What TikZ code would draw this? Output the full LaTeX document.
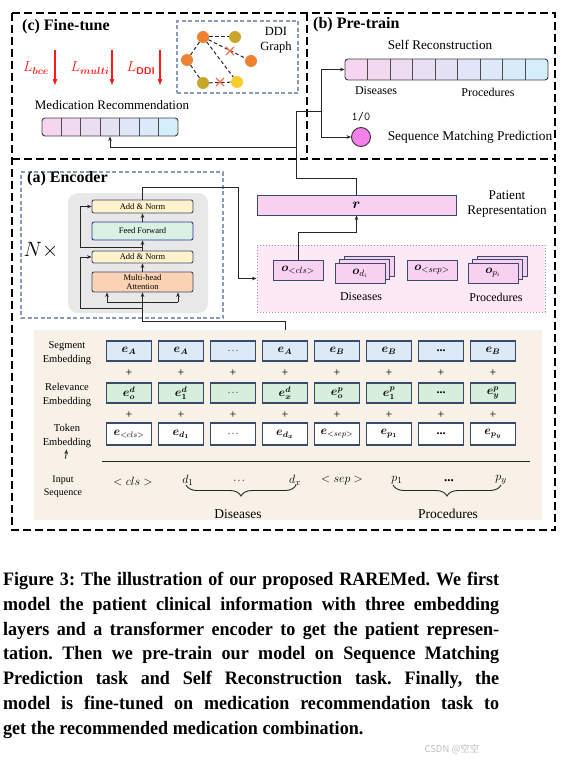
\documentclass[tikz,border=0pt]{standalone}
\usepackage{fontspec}
\setmainfont{Liberation Serif}
\newfontfamily\capfont{Liberation Serif}[FakeStretch=0.95]
\newfontfamily\cjkfont{Noto Sans CJK SC}
\usepackage{amsmath}
\usepackage{bm}
\usetikzlibrary{arrows.meta,decorations.pathreplacing,shapes.misc,calc}
\definecolor{bordc}{HTML}{3B4A6B}
\definecolor{segc}{HTML}{DCE9F7}
\definecolor{relc}{HTML}{D6EFDC}
\definecolor{beige}{HTML}{F8F1E7}
\definecolor{dashb}{HTML}{8A9BB5}
\definecolor{opink}{HTML}{F9D1F0}
\definecolor{panelpink}{HTML}{FDE8F6}
\definecolor{gpink}{HTML}{F6D6EF}
\definecolor{gblue}{HTML}{D4EEFB}
\definecolor{anc}{HTML}{FFF2CC}
\definecolor{ffc}{HTML}{D9F0E3}
\definecolor{mhac}{HTML}{FBD3B4}
\definecolor{grayb}{HTML}{E8E8E8}
\definecolor{ddior}{HTML}{EE8232}
\definecolor{ddiol}{HTML}{C8A62A}
\definecolor{ddiye}{HTML}{F6CD2B}
\definecolor{crossc}{HTML}{F36D4F}
\definecolor{smpc}{HTML}{F580EA}
\definecolor{lossred}{HTML}{FF1A1A}
\frenchspacing
\newcommand{\fsz}[2]{\fontsize{#1}{#2}\selectfont}
\newcommand{\gradbar}[5]{%
  \begin{scope}
    \clip[rounded corners=3pt] (#1,#2) rectangle (#3,#4);
    \pgfmathsetmacro{\cw}{(#3-#1)/#5}
    \foreach \i in {1,...,#5}{
      \pgfmathsetmacro{\pc}{100-(\i-1)*100/(#5-1)}
      \fill[gpink!\pc!gblue] ({#1+(\i-1)*\cw},#2) rectangle ({#1+\i*\cw},#4);
    }
  \end{scope}
  \pgfmathsetmacro{\cw}{(#3-#1)/#5}
  \foreach \i in {2,...,#5}{
    \draw[black!70, line width=0.8pt] ({#1+(\i-1)*\cw},#2) -- ({#1+(\i-1)*\cw},#4);
  }
}
\begin{document}
\begin{tikzpicture}[x=1pt, y=-1pt,
  conn/.style={draw=black!85, line width=0.9pt},
  arr/.style={conn, -{Stealth[length=4.5pt,width=3.6pt]}},
  outerdash/.style={draw=black, line width=1.1pt, dash pattern=on 8pt off 4pt},
  innerdash/.style={draw=dashb, line width=1.1pt, dash pattern=on 4pt off 2.5pt},
  emb/.style={draw=bordc, line width=1.1pt, minimum width=45pt, minimum height=20pt, inner sep=0pt, font=\fsz{12}{14}},
  seg/.style={emb, fill=segc},
  rel/.style={emb, fill=relc},
  tok/.style={emb, fill=white, minimum height=22pt},
  enc/.style={draw=bordc, line width=0.9pt, rounded corners=2pt, minimum width=101pt, inner sep=0pt, font=\fsz{8.5}{9.5}, align=center},
  obox/.style={draw=bordc, line width=1pt, fill=opink, minimum width=50pt, minimum height=20pt, inner sep=0pt, font=\fsz{13}{14}},
  txt/.style={inner sep=0pt, font=\fsz{12}{14}, align=center},
  lbl/.style={inner sep=0pt, font=\fsz{10.5}{14}, align=center},
  seqt/.style={inner sep=0pt, font=\fsz{13}{14}},
  ttl/.style={inner sep=0pt, anchor=west, font=\bfseries\fsz{16}{18}},
  loss/.style={inner sep=0pt, text=lossred, font=\fsz{14}{16}},
  lossarr/.style={draw=lossred, line width=1.1pt, -{Triangle[length=6pt,width=4.5pt]}},
  ddin/.style={circle, minimum size=12pt, inner sep=0pt},
  ddie/.style={draw=black!85, line width=1pt, dash pattern=on 3.5pt off 2.5pt},
  xmark/.style={cross out, draw=crossc, minimum size=7pt, inner sep=0pt, line width=1.1pt},
  capl/.style={anchor=base west, inner sep=0pt, font=\capfont\bfseries\fsz{19}{22}},
  plus/.style={inner sep=0pt, font=\fsz{12}{14}}
]
\useasboundingbox (0,0) rectangle (572,760);
\fill[white] (0,0) rectangle (572,760);

% ---------- frames ----------
\draw[outerdash] (12,13) rectangle (555,530);
\draw[outerdash] (12,159) -- (555,159);
\draw[outerdash] (307,13) -- (307,159);

% ---------- (c) Fine-tune ----------
\node[ttl] (tc) at (22,27) {(c) Fine-tune};
\node[loss] (l1) at (36,68) {$L_{\bm{bce}}$};
\node[loss] (l2) at (90,68) {$L_{\bm{multi}}$};
\node[loss] (l3) at (141,68) {$L_{\text{\bfseries\sffamily DDI}}$};
\coordinate (a1s) at (55,50); \coordinate (a1e) at (55,85);
\coordinate (a2s) at (112,50); \coordinate (a2e) at (112,85);
\coordinate (a3s) at (160,50); \coordinate (a3e) at (160,85);
\draw[lossarr] (a1s) -- (a1e);
\draw[lossarr] (a2s) -- (a2e);
\draw[lossarr] (a3s) -- (a3e);

\node[innerdash, minimum width=121pt, minimum height=72pt, inner sep=0pt] (ddibox) at (237.5,57) {};
\node[txt, font=\fsz{12.5}{15}] (ddit) at (276,40.5) {DDI\\Graph};
\node[ddin, fill=ddior] (g1) at (203,37) {};
\node[ddin, fill=ddiol] (g2) at (235,37) {};
\node[ddin, fill=ddior] (g3) at (187,60) {};
\node[ddin, fill=ddior] (g4) at (251,61) {};
\node[ddin, fill=ddiol] (g5) at (203,83) {};
\node[ddin, fill=ddiye] (g6) at (237,82) {};
\draw[ddie] (g1) -- (g2);
\draw[ddie] (g1) -- (g3);
\draw[ddie] (g3) -- (g5);
\draw[ddie] (g5) -- (g6);
\draw[ddie] (g1) -- (g4);
\draw[ddie] (g1) -- (g6);
\node[xmark] (x1) at (220,82) {};
\node[xmark] (x2) at (230,51) {};

\node[txt, font=\fsz{13}{15}] (medt) at (112,105) {Medication Recommendation};
\gradbar{42}{118}{178}{136}{7}
\node[draw=black!75, line width=0.9pt, rounded corners=3pt, minimum width=136pt, minimum height=18pt, inner sep=0pt] (med) at (110,127) {};

% ---------- (b) Pre-train ----------
\node[ttl] (tb) at (313,24.5) {(b) Pre-train};
\node[txt, font=\fsz{13.2}{15}] (srt) at (440,45) {Self Reconstruction};
\gradbar{345}{59}{548}{80}{9}
\node[draw=black!75, line width=0.9pt, rounded corners=3pt, minimum width=203pt, minimum height=21pt, inner sep=0pt] (srbar) at (446.5,69.5) {};
\node[txt] (srd) at (376,91) {Diseases};
\node[txt] (srp) at (488,92) {Procedures};
\node[inner sep=0pt, font=\ttfamily\fsz{12}{14}] (onezero) at (361,117) {1/0};
\node[circle, draw=black!80, line width=0.9pt, fill=smpc, minimum size=19pt, inner sep=0pt] (smp) at (361,137) {};
\node[txt, font=\fsz{13.4}{15}] (smpt) at (470,137) {Sequence Matching Prediction};

% ---------- (a) Encoder ----------
\node[innerdash, minimum width=202pt, minimum height=146pt, inner sep=0pt] (encbox) at (122,245) {};
\node[ttl] (ta) at (27,179) {(a) Encoder};
\node[fill=grayb, rounded corners=10pt, minimum width=140pt, minimum height=120pt, inner sep=0pt] (encbg) at (138,253) {};
\node[inner sep=0pt, font=\fsz{21}{22}] (nx) at (41,250) {$N\times$};
\node[enc, fill=anc, minimum height=13pt] (an1) at (142.5,206.5) {Add \& Norm};
\node[enc, fill=ffc, draw=bordc!70!blue, minimum height=18pt] (ff) at (142.5,231) {Feed Forward};
\node[enc, fill=anc, minimum height=12pt] (an2) at (142.5,257) {Add \& Norm};
\node[enc, fill=mhac, minimum height=20pt] (mha) at (142.5,282) {Multi-head\\Attention};
\draw[arr] (mha.north) -- (an2.south);
\draw[arr] (an2.north) -- (ff.south);
\draw[arr] (ff.north) -- (an1.south);

% patient representation panel
\node[draw=dashb, line width=1pt, dotted, fill=panelpink, minimum width=288pt, minimum height=67pt, inner sep=0pt] (opanel) at (401,278.5) {};
\node[obox] (ocls) at (298,270) {$\bm{o}_{\mathord{<}cls\mathord{>}}$};
\node[obox] (odi3) at (369,266) {};
\node[obox] (odi2) at (364.5,269.5) {};
\node[obox] (odi) at (360,273) {$\bm{o}_{d_i}$};
\node[obox] (osep) at (432,270) {$\bm{o}_{\mathord{<}sep\mathord{>}}$};
\node[obox] (opi3) at (502,266) {};
\node[obox] (opi2) at (497.5,269.5) {};
\node[obox] (opi) at (493,273) {$\bm{o}_{p_i}$};
\node[txt] (od) at (361,297) {Diseases};
\node[txt] (op) at (496,297) {Procedures};

\node[obox, minimum width=199pt, minimum height=20pt, font=\fsz{14}{16}] (r) at (356.5,205) {$\bm{r}$};
\node[txt, font=\fsz{13.2}{15}] (prt) at (507,204.5) {Patient\\Representation};

% ---------- embeddings ----------
\node[fill=beige, minimum width=508pt, minimum height=190pt, inner sep=0pt] (panel) at (288,425) {};
\node[seg] (s1) at (129,351) {$\bm{e}_{\bm{A}}$};
\node[seg] (s2) at (181,351) {$\bm{e}_{\bm{A}}$};
\node[seg] (s3) at (233,351) {\textcolor{black!60}{\dots}};
\node[seg] (s4) at (285,351) {$\bm{e}_{\bm{A}}$};
\node[seg] (s5) at (337,351) {$\bm{e}_{\bm{B}}$};
\node[seg] (s6) at (389,351) {$\bm{e}_{\bm{B}}$};
\node[seg] (s7) at (441,351) {\textbf{...}};
\node[seg] (s8) at (493,351) {$\bm{e}_{\bm{B}}$};

\node[rel] (r1) at (129,393) {$\bm{e}^{\bm{d}}_{\bm{o}}$};
\node[rel] (r2) at (181,393) {$\bm{e}^{\bm{d}}_{\bm{1}}$};
\node[rel] (r3) at (233,393) {\textcolor{black!60}{\dots}};
\node[rel] (r4) at (285,393) {$\bm{e}^{\bm{d}}_{\bm{x}}$};
\node[rel] (r5) at (337,393) {$\bm{e}^{\bm{p}}_{\bm{o}}$};
\node[rel] (r6) at (389,393) {$\bm{e}^{\bm{p}}_{\bm{1}}$};
\node[rel] (r7) at (441,393) {\textbf{...}};
\node[rel] (r8) at (493,393) {$\bm{e}^{\bm{p}}_{\bm{y}}$};

\node[tok] (t1) at (129,434) {$\bm{e}_{\mathord{<}cls\mathord{>}}$};
\node[tok] (t2) at (181,434) {$\bm{e}_{\bm{d_1}}$};
\node[tok] (t3) at (233,434) {\textcolor{black!60}{\dots}};
\node[tok] (t4) at (285,434) {$\bm{e}_{\bm{d_x}}$};
\node[tok] (t5) at (337,434) {$\bm{e}_{\mathord{<}sep\mathord{>}}$};
\node[tok] (t6) at (389,434) {$\bm{e}_{\bm{p_1}}$};
\node[tok] (t7) at (441,434) {\textbf{...}};
\node[tok] (t8) at (493,434) {$\bm{e}_{\bm{p_y}}$};

\foreach \c/\xx in {1/129,2/181,3/233,4/285,5/337,6/389,7/441,8/493}{
  \node[plus] (pa\c) at (\xx,373) {+};
  \node[plus] (pb\c) at (\xx,415) {+};
}

\node[lbl] (segl) at (67,353.5) {Segment\\Embedding};
\node[lbl] (rell) at (67,395) {Relevance\\Embedding};
\node[lbl] (tokl) at (67,435.5) {Token\\Embedding};
\node[lbl, font=\fsz{10}{13}] (inl) at (63,486.5) {Input\\Sequence};
\draw[arr, shorten <=17pt, shorten >=2pt] (inl.north) -- (tokl.south);

\coordinate (hl1) at (102,461); \coordinate (hl2) at (530,461);
\draw[conn] (hl1) -- (hl2);

\node[seqt] (q1) at (133,481) {$<cls>$};
\node[seqt] (q2) at (188,480) {$d_1$};
\node[seqt] (q3) at (239,481) {\textcolor{black!60}{\dots}};
\node[seqt] (q4) at (295,480) {$d_x$};
\node[seqt] (q5) at (342,481) {$<sep>$};
\node[seqt] (q6) at (397,480) {$p_1$};
\node[seqt] (q7) at (449,481) {\textbf{...}};
\node[seqt] (q8) at (501,480) {$p_y$};
\coordinate (bd1) at (186,485); \coordinate (bd2) at (296,485);
\coordinate (bp1) at (393,485); \coordinate (bp2) at (501,485);
\draw[conn, decorate, decoration={brace, mirror, amplitude=11pt}] (bd1) -- (bd2);
\draw[conn, decorate, decoration={brace, mirror, amplitude=11pt}] (bp1) -- (bp2);
\node[seqt, font=\fsz{13.5}{15}] (dl) at (238,514) {Diseases};
\node[seqt, font=\fsz{13.5}{15}] (pl) at (448,514) {Procedures};

% ---------- connectors ----------
\coordinate (inTop) at (285,321);
\draw[arr] (s4.north |- panel.north) -- (inTop) -| (mha.south);
\coordinate (rs1) at (142.5,308); \coordinate (rs1l) at (80,308);
\draw[arr] (rs1) -- (rs1l) |- (an2.west);
\coordinate (rs2) at (142.5,247); \coordinate (rs2l) at (80,247);
\draw[arr] (rs2) -- (rs2l) |- (an1.west);
\coordinate (m1) at (107,302); \coordinate (m3) at (178,302);
\draw[conn] (m1) -- (m3);
\draw[arr] (m1) -- (m1 |- mha.south);
\draw[arr] (m3) -- (m3 |- mha.south);
\coordinate (outUp) at (142.5,187); \coordinate (outR) at (238,187);
\draw[arr] (an1.north) -- (outUp) -- (outR) |- (opanel.west);

\coordinate (rJ) at (356.5,232);
\draw[arr] (ocls.north) |- (rJ) -- (r.south);
\coordinate (up1) at (296,178); \coordinate (up2) at (296,111); \coordinate (br) at (321,111);
\draw[conn] (r.north) |- (up1) -- (up2) -- (br);
\draw[arr] (br) |- (srbar.west);
\draw[arr] (br) |- (smp.west);
\coordinate (fb) at (296,147);
\draw[arr] (fb) -| (med.south);

% ---------- caption ----------
\node[capl] (c1) at (3,585.5) {\makebox[496pt][s]{Figure 3: The illustration of our proposed RAREMed. We first}};
\node[capl] (c2) at (3,610.25) {\makebox[496pt][s]{model the patient clinical information with three embedding}};
\node[capl] (c3) at (3,635) {\makebox[496pt][s]{layers and a transformer encoder to get the patient represen-}};
\node[capl] (c4) at (3,659.75) {\makebox[496pt][s]{tation. Then we pre-train our model on Sequence Matching}};
\node[capl] (c5) at (3,684.5) {\makebox[496pt][s]{Prediction task and Self Reconstruction task. Finally, the}};
\node[capl] (c6) at (3,709.25) {\makebox[496pt][s]{model is fine-tuned on medication recommendation task to}};
\node[capl] (c7) at (3,734) {get the recommended medication combination.};
\node[inner sep=0pt, text=black!25, font=\cjkfont\fsz{9.5}{11}] (wm) at (452,749) {CSDN @空空};
\end{tikzpicture}
\end{document}
